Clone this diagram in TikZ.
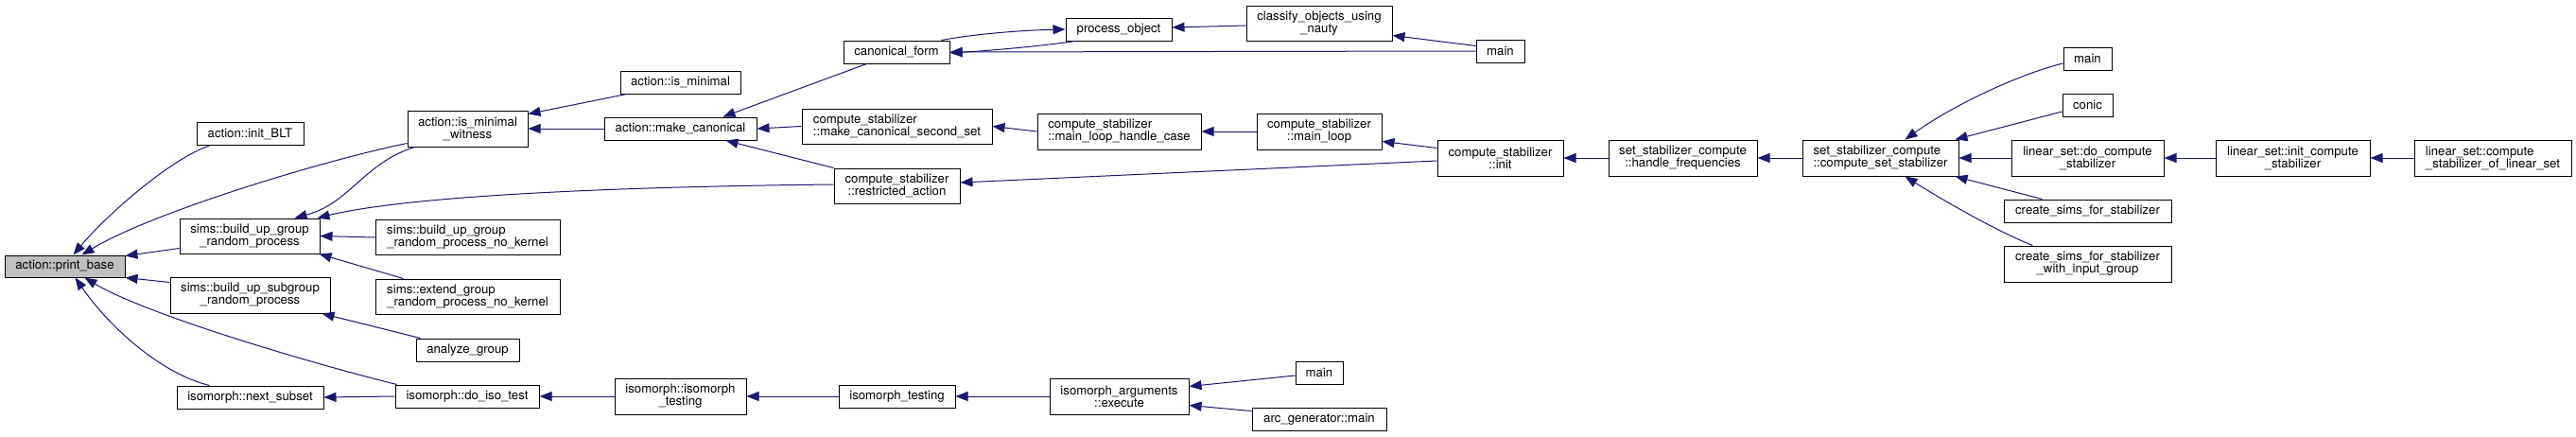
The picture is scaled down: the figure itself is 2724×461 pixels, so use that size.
\documentclass[tikz,border=0pt]{standalone}
\usepackage{fontspec}
\setmainfont{TeX Gyre Heros}
\usetikzlibrary{arrows.meta,calc}
\definecolor{edgeblue}{HTML}{191970}
\begin{document}
\begin{tikzpicture}[x=1pt,y=-1pt,
  nd/.style={draw=black, line width=1pt, rectangle, inner sep=0pt, fill=white,
    font=\fontsize{13.2}{13}\selectfont, align=center},
  ndl/.style={nd, align=left},
  edge/.style={draw=edgeblue, line width=1pt, -{Triangle[length=13pt,width=10pt]}},
]
\useasboundingbox (0,0) rectangle (2724,461);
% nodes
\node[nd, minimum width=127pt, minimum height=23pt, fill=black!25] (pb) at (68.5,281.5) {action::print\_base};
\node[nd, minimum width=113pt, minimum height=24pt] (blt) at (264.5,141.5) {action::init\_BLT};
\node[nd, minimum width=148pt, minimum height=37pt] (bug) at (264,249.5) {sims::build\_up\_group\\\_random\_process};
\node[nd, minimum width=169pt, minimum height=38pt] (bus) at (264.5,312) {sims::build\_up\_subgroup\\\_random\_process};
\node[nd, minimum width=155pt, minimum height=24pt] (nxt) at (264.5,420) {isomorph::next\_subset};
\node[nd, minimum width=127pt, minimum height=38pt] (imw) at (494.5,136) {action::is\_minimal\\\_witness};
\node[ndl, minimum width=195pt, minimum height=37pt] (bnk) at (494.5,251) {sims::build\_up\_group\\\_random\_process\_no\_kernel};
\node[ndl, minimum width=195pt, minimum height=37pt] (ext) at (494.5,313.5) {sims::extend\_group\\\_random\_process\_no\_kernel};
\node[nd, minimum width=109pt, minimum height=24pt] (ana) at (494.5,370) {analyze\_group};
\node[nd, minimum width=152pt, minimum height=24pt] (dit) at (494,419) {isomorph::do\_iso\_test};
\node[nd, minimum width=127pt, minimum height=24pt] (ism) at (719.5,87) {action::is\_minimal};
\node[nd, minimum width=161pt, minimum height=24pt] (mkc) at (719.5,136) {action::make\_canonical};
\node[nd, minimum width=139pt, minimum height=38pt] (iit) at (719.5,419) {isomorph::isomorph\\\_testing};
\node[nd, minimum width=112pt, minimum height=24pt] (cf) at (948,55) {canonical\_form};
\node[ndl, minimum width=201pt, minimum height=37pt] (mcs) at (948.5,133.5) {compute\_stabilizer\\::make\_canonical\_second\_set};
\node[nd, minimum width=133pt, minimum height=37pt] (ra) at (948.5,196.5) {compute\_stabilizer\\::restricted\_action};
\node[nd, minimum width=123pt, minimum height=24pt] (it) at (948.5,419) {isomorph\_testing};
\node[nd, minimum width=112pt, minimum height=24pt] (po) at (1183,31) {process\_object};
\node[nd, minimum width=154pt, minimum height=37pt] (cls) at (1395,24.5) {classify\_objects\_using\\\_nauty};
\node[ndl, minimum width=173pt, minimum height=38pt] (mlh) at (1183.5,139) {compute\_stabilizer\\::main\_loop\_handle\_case};
\node[nd, minimum width=132pt, minimum height=38pt] (ml) at (1395,139) {compute\_stabilizer\\::main\_loop};
\node[nd, minimum width=133pt, minimum height=38pt] (ini) at (1586.5,167) {compute\_stabilizer\\::init};
\node[nd, minimum width=147pt, minimum height=38pt] (exe) at (1183.5,419) {isomorph\_arguments\\::execute};
\node[nd, minimum width=50pt, minimum height=24pt] (mn2) at (1395,394) {main};
\node[nd, minimum width=142pt, minimum height=24pt] (arc) at (1395,443) {arc\_generator::main};
\node[nd, minimum width=51pt, minimum height=24pt] (mn1) at (1586.5,54) {main};
\node[nd, minimum width=157pt, minimum height=38pt] (hf) at (1779.5,167) {set\_stabilizer\_compute\\::handle\_frequencies};
\node[ndl, minimum width=165pt, minimum height=38pt] (css) at (1988.5,167) {set\_stabilizer\_compute\\::compute\_set\_stabilizer};
\node[nd, minimum width=51pt, minimum height=24pt] (mn3) at (2207.5,62) {main};
\node[nd, minimum width=53pt, minimum height=24pt] (con) at (2207.5,111) {conic};
\node[nd, minimum width=161pt, minimum height=38pt] (dcs) at (2207.5,167) {linear\_set::do\_compute\\\_stabilizer};
\node[nd, minimum width=163pt, minimum height=38pt] (ics) at (2424.5,167) {linear\_set::init\_compute\\\_stabilizer};
\node[nd, minimum width=177pt, minimum height=24pt] (cs1) at (2207.5,223) {create\_sims\_for\_stabilizer};
\node[nd, minimum width=177pt, minimum height=38pt] (cs2) at (2207.5,279) {create\_sims\_for\_stabilizer\\\_with\_input\_group};
\node[ndl, minimum width=166pt, minimum height=38pt] (lcs) at (2636,167) {linear\_set::compute\\\_stabilizer\_of\_linear\_set};
% edges
\draw[edge] ($(blt.south west)+(14,0)$) .. controls (180,168) and (112,228) .. ($(pb.north west)+(73,0)$);
\draw[edge] ($(imw.south west)+(0,-4)$) .. controls (340,170) and (160,225) .. ($(pb.north west)+(82,0)$);
\draw[edge] ($(bug.south west)+(0,-6)$) -- ($(pb.north east)+(0,1)$);
\draw[edge] ($(bus.north west)+(0,6)$) -- (pb.south east);
\draw[edge] ($(dit.north west)+(2,0)$) .. controls (310,379) and (150,330) .. ($(pb.south west)+(85,0)$);
\draw[edge] ($(nxt.north west)+(35,0)$) .. controls (170,395) and (115,345) .. ($(pb.south west)+(75,0)$);
\draw[edge] (bnk.west) -- (bug.east);
\draw[edge] ($(ext.north west)+(30,0)$) -- ($(bug.south east)+(-1,0)$);
\draw[edge] ($(ana.north west)+(5,0)$) -- ($(bus.south east)+(-9,0)$);
\draw[edge] (dit.west) -- (nxt.east);
\draw[edge] ($(imw.south west)+(8,0)$) .. controls (385,172) and (370,215) .. ($(bug.north west)+(122,0)$);
\draw[edge] ($(ra.west)+(0,-1.5)$) .. controls (600,198) and (420,210) .. ($(bug.north east)+(-3,0)$);
\draw[edge] ($(ism.south west)+(7,0)$) -- ($(imw.north east)+(0,4)$);
\draw[edge] (mkc.west) -- (imw.east);
\draw[edge] ($(cf.south west)+(25,0)$) -- ($(mkc.north west)+(126,0)$);
\draw[edge] (mcs.west) -- (mkc.east);
\draw[edge] (ra.north west) -- ($(mkc.south west)+(129,0)$);
\draw[edge] (iit.west) -- (dit.east);
\draw[edge] (it.west) -- (iit.east);
\draw[edge] ($(cf.north east)+(-9,0)$) .. controls (1030,36) and (1080,32) .. (po.west);
\draw[edge] ($(po.south west)+(10,0)$) .. controls (1100,49) and (1040,54) .. ($(cf.east)+(0,1)$);
\draw[edge] (mn1.west) -- (cf.east);
\draw[edge] ($(cls.west)+(0,2.5)$) -- ($(po.east)+(0,-2)$);
\draw[edge] ($(mn1.north west)+(0,7)$) -- ($(cls.south east)+(0,-6)$);
\draw[edge] (mlh.west) -- (mcs.east);
\draw[edge] (ml.west) -- (mlh.east);
\draw[edge] ($(ini.north west)+(0,9)$) -- ($(ml.south east)+(0,-9)$);
\draw[edge] ($(ini.west)+(0,3)$) -- ($(ra.east)+(0,-3.5)$);
\draw[edge] (hf.west) -- (ini.east);
\draw[edge] (css.west) -- (hf.east);
\draw[edge] ($(mn3.west)+(0,5)$) .. controls (2140,77) and (2070,108) .. ($(css.north west)+(109,0)$);
\draw[edge] ($(con.west)+(0,7)$) -- ($(css.north east)+(-4,0)$);
\draw[edge] (dcs.west) -- (css.east);
\draw[edge] ($(cs1.north west)+(41,0)$) -- ($(css.south east)+(-4,0)$);
\draw[edge] ($(cs2.north west)+(31,0)$) .. controls (2115,246) and (2060,215) .. ($(css.south west)+(109,0)$);
\draw[edge] (ics.west) -- (dcs.east);
\draw[edge] (lcs.west) -- (ics.east);
\draw[edge] (exe.west) -- (it.east);
\draw[edge] ($(mn2.west)+(0,3)$) -- ($(exe.north east)+(0,9)$);
\draw[edge] ($(arc.north west)+(0,4)$) -- ($(exe.south east)+(0,-10)$);
\end{tikzpicture}
\end{document}
